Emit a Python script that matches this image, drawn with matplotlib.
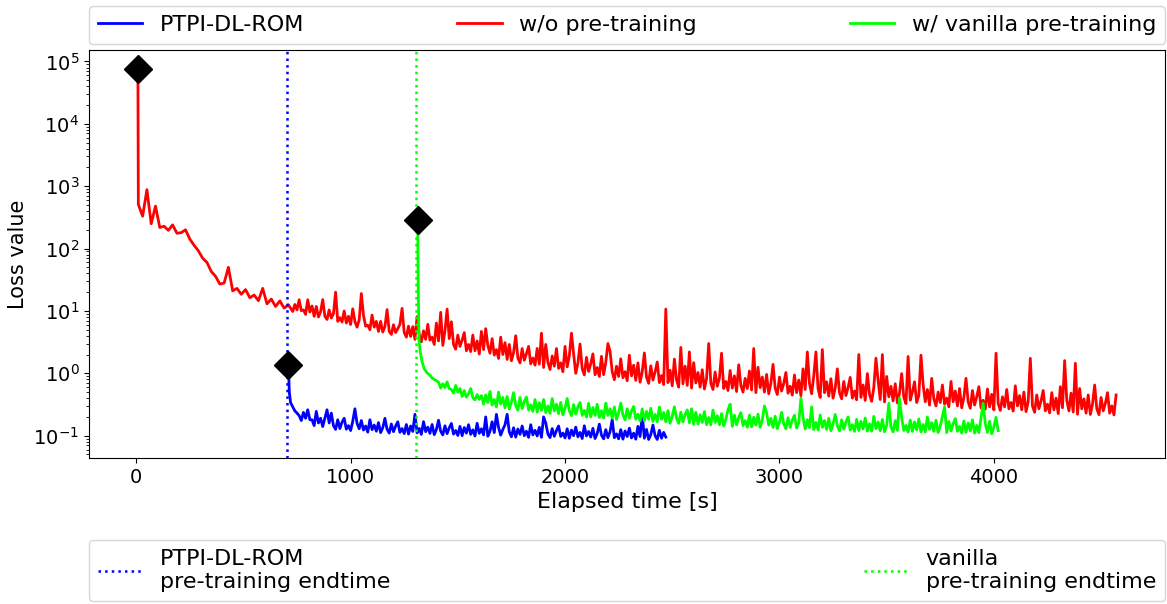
import matplotlib
matplotlib.use("Agg")
import matplotlib.pyplot as plt
import numpy as np

plt.rcParams['font.size'] = 14

#Loss history (time in s)
red_time = np.concatenate([[8], np.arange(10, 711, 20), np.arange(730, 4571, 10)])
red_loss = [77000,
    510, 330, 880, 250, 480, 218, 228, 196, 240, 176,
    180, 200, 142, 113, 92, 70, 60, 43, 36, 27,
    28, 50, 21, 23, 18.5, 22, 16.3, 18, 14.6, 23,
    13, 15.5, 11.8, 14.5, 11.1, 12.5,
    9.8, 12.7, 10.4, 15.1, 10.1, 10.4, 8.8, 15.1, 9.6, 12.0,
    8.2, 11.8, 8.0, 9.7, 15.2, 8.2, 7.3, 10.4, 7.7, 9.1,
    20, 6.8, 7.8, 6.65, 10.0, 6.4, 8.2, 6.05, 10.8, 6.8,
    5.5, 7.2, 19, 8.5, 5.7, 5.9, 5.0, 8.6, 5.5, 6.8,
    4.7, 6.8, 4.6, 5.6, 10.5, 4.7, 4.2, 6.0, 4.5, 5.2,
    6.1, 11, 4.5, 3.8, 5.7, 3.9, 5.6, 3.5, 8.1, 4.2,
    3.2, 4.8, 3.5, 6.1, 3.4, 3.8, 2.9, 6.4, 3.3, 9.5,
    2.8, 4.8, 10.7, 3.6, 6.7, 2.9, 2.44, 4.1, 2.7, 3.4,
    4.5, 2.3, 2.9, 2.23, 4.1, 2.3, 3.3, 2.04, 4.7, 2.4,
    5.2, 2.8, 2.1, 3.6, 1.96, 2.4, 1.73, 3.8, 2.0, 3.1,
    1.67, 2.9, 1.59, 2.15, 4.0, 1.76, 1.47, 2.5, 1.62, 2.06,
    2.7, 1.42, 1.76, 1.35, 2.5, 1.4, 4.4, 1.24, 2.9, 1.5,
    1.15, 1.9, 1.3, 2.5, 1.2,
    1.47, 1.06, 2.7, 1.27, 1.9, 4.4, 2.04, 1.0, 1.46, 2.95,
    1.19, 0.944, 1.8, 1.07, 1.43, 2.05, 0.95, 1.24, 0.89, 1.87,
    0.95, 1.5, 3.0, 2.26, 1.06, 0.79, 1.3, 0.89, 1.71, 0.85,
    1.06, 0.76, 1.95, 0.91, 1.35, 0.77, 1.47, 0.72, 1.05, 2.12,
    0.87, 0.69, 1.32, 0.78, 1.05, 1.52, 0.71, 0.92, 0.66, 10.7,
    0.71, 1.12, 0.63, 1.69, 0.79, 0.60, 2.6, 0.68, 1.3, 0.64,
    2.2, 0.58, 1.48, 0.70, 1.03, 0.6, 1.14, 0.56, 0.82, 3.0,
    0.69, 0.55, 1.05, 0.62, 0.84, 2.1, 0.57, 0.74, 0.53, 1.11,
    0.58, 0.91, 0.51, 1.37, 0.64, 0.5, 0.83, 0.57, 1.09, 0.54,
    2.5, 0.49, 1.25, 0.59, 0.87, 0.5, 0.96, 0.47, 0.69, 1.39,
    0.58, 0.457, 0.87, 0.52, 0.69, 1.03, 0.48, 0.62, 0.447, 0.94,
    0.49, 0.78, 0.437, 1.18, 0.55, 2.2, 0.69, 0.47, 0.91, 2.2,
    0.57, 0.41, 2.4, 0.49, 0.73, 0.43, 0.82, 0.40, 0.58, 1.18,
    0.49, 0.39, 0.74, 0.44, 0.59, 0.86, 0.4, 0.52, 0.376, 2.0,
    0.41, 0.65, 0.367, 0.99, 0.46, 0.355, 0.59, 1.75, 0.77, 0.38,
    2.0, 0.347, 0.89, 0.42, 0.62, 0.36, 0.68, 0.335, 0.49, 0.99,
    0.41, 0.327, 1.86, 0.37, 0.5, 0.73, 0.34, 0.44, 1.95, 0.66,
    0.35, 0.55, 0.309, 0.83, 0.39, 0.3, 0.5, 0.34, 0.65, 0.32,
    0.4, 0.29, 0.74, 0.35, 0.52, 0.3, 0.57, 0.28, 0.41, 0.83,
    0.35, 0.275, 0.53, 0.31, 0.42, 0.61, 0.28, 0.37, 0.266, 0.56,
    0.29, 0.46, 0.26, 2.1, 0.33, 0.254, 0.42, 0.29, 0.55, 0.27,
    0.34, 0.248, 0.63, 0.3, 0.44, 0.26, 0.5, 0.243, 0.35, 1.74,
    0.3, 0.237, 0.45, 0.27, 0.36, 0.53, 0.25, 0.32, 0.232, 0.49,
    0.26, 0.4, 0.226, 0.61, 0.28, 1.6, 0.37, 0.25, 0.48, 0.24,
    1.45, 0.221, 0.57, 0.27, 0.39, 0.23, 0.45, 0.219, 0.32, 0.65,
    0.27, 0.217, 0.41, 0.25, 0.33, 0.49, 0.23, 0.3, 0.215, 0.45]

blue_time = np.concatenate([[710, 714], np.arange(720, 2471, 10)])
blue_loss = [1.35, 0.5,
    0.34, 0.29, 0.25, 0.23, 0.21, 0.175, 0.236, 0.19, 0.26, 0.18,
    0.18, 0.145, 0.245, 0.16, 0.19, 0.14, 0.19, 0.26, 0.16, 0.23,
    0.145, 0.126, 0.18, 0.13, 0.165, 0.19, 0.127, 0.145, 0.121, 0.17,
    0.27, 0.158, 0.129, 0.175, 0.123, 0.143, 0.114, 0.18, 0.125, 0.148,
    0.118, 0.162, 0.112, 0.134, 0.19, 0.127, 0.11, 0.154, 0.116, 0.143,
    0.167, 0.113, 0.13, 0.108, 0.151, 0.106, 0.143, 0.117, 0.22, 0.111,
    0.131, 0.105, 0.168, 0.116, 0.137, 0.109, 0.151, 0.104, 0.125, 0.177,
    0.118, 0.103, 0.144, 0.108, 0.134, 0.157, 0.106, 0.121, 0.101, 0.141,
    0.1, 0.135, 0.11, 0.15, 0.105, 0.124, 0.099, 0.158, 0.109, 0.129,
    0.103, 0.2, 0.098, 0.118, 0.167, 0.112, 0.22, 0.136, 0.102, 0.126,
    0.149, 0.22, 0.115, 0.096, 0.134, 0.095, 0.128, 0.105, 0.143, 0.1,
    0.118, 0.094, 0.15, 0.103, 0.122, 0.099, 0.136, 0.094, 0.2, 0.16,
    0.107, 0.093, 0.13, 0.098, 0.121, 0.143, 0.097, 0.11, 0.092, 0.129,
    0.091, 0.123, 0.1, 0.137, 0.096, 0.113, 0.09, 0.144, 0.099, 0.117,
    0.095, 0.131, 0.09, 0.108, 0.153, 0.102, 0.089, 0.125, 0.093, 0.116,
    0.18, 0.093, 0.107, 0.089, 0.125, 0.088, 0.119, 0.097, 0.132, 0.092,
    0.11, 0.088, 0.141, 0.097, 0.22, 0.091, 0.126, 0.087, 0.104, 0.148,
    0.1, 0.087, 0.122, 0.091, 0.113, 0.095]

green_time = np.concatenate([[1313, 1315, 1319, 1325, 1333, 1343, 1356],
                             np.arange(1370, 4021, 10)])
green_loss = [283, 28, 3.3, 2.2, 1.55, 1.2, 1.02,
    0.93, 0.84, 0.80, 0.76, 0.72, 0.58, 0.68, 0.59, 0.73, 0.57,
    0.55, 0.48, 0.64, 0.5, 0.57, 0.425, 0.53, 0.415, 0.47, 0.57,
    0.407, 0.375, 0.456, 0.383, 0.44, 0.32, 0.45, 0.34, 0.51, 0.31,
    0.38, 0.29, 0.5, 0.32, 0.41, 0.28, 0.425, 0.268, 0.343, 0.49,
    0.309, 0.256, 0.41, 0.272, 0.355, 0.416, 0.258, 0.312, 0.244, 0.38,
    0.24, 0.338, 0.254, 0.38, 0.234, 0.3, 0.228, 0.394, 0.25, 0.321,
    0.226, 0.342, 0.216, 0.276, 0.395, 0.252, 0.209, 0.315, 0.222, 0.29,
    0.34, 0.211, 0.255, 0.199, 0.33, 0.2, 0.283, 0.212, 0.319, 0.196,
    0.252, 0.192, 0.332, 0.211, 0.27, 0.191, 0.289, 0.182, 0.233, 0.333,
    0.216, 0.179, 0.27, 0.19, 0.248, 0.294, 0.183, 0.221, 0.172, 0.269,
    0.173, 0.245, 0.184, 0.275, 0.169, 0.219, 0.167, 0.289, 0.183, 0.235,
    0.167, 0.252, 0.159, 0.204, 0.291, 0.19, 0.158, 0.238, 0.167, 0.219,
    0.259, 0.161, 0.27, 0.152, 0.237, 0.154, 0.217, 0.163, 0.244, 0.15,
    0.195, 0.149, 0.257, 0.163, 0.209, 0.15, 0.226, 0.143, 0.183, 0.261,
    0.32, 0.141, 0.213, 0.15, 0.196, 0.234, 0.145, 0.175, 0.137, 0.214,
    0.139, 0.197, 0.148, 0.221, 0.136, 0.177, 0.30, 0.233, 0.148, 0.19,
    0.136, 0.205, 0.13, 0.166, 0.237, 0.155, 0.129, 0.194, 0.136, 0.178,
    0.213, 0.132, 0.16, 0.40, 0.195, 0.128, 0.18, 0.135, 0.29, 0.125,
    0.163, 0.124, 0.215, 0.136, 0.175, 0.126, 0.19, 0.12, 0.153, 0.219,
    0.144, 0.12, 0.18, 0.127, 0.166, 0.2, 0.124, 0.15, 0.117, 0.183,
    0.121, 0.17, 0.128, 0.192, 0.118, 0.155, 0.118, 0.204, 0.13, 0.166,
    0.12, 0.182, 0.115, 0.147, 0.33, 0.139, 0.115, 0.174, 0.122, 0.40,
    0.195, 0.121, 0.146, 0.114, 0.178, 0.117, 0.166, 0.124, 0.186, 0.115,
    0.151, 0.115, 0.199, 0.126, 0.162, 0.117, 0.177, 0.112, 0.143, 0.204,
    0.29, 0.112, 0.169, 0.119, 0.155, 0.188, 0.117, 0.141, 0.11, 0.172,
    0.113, 0.16, 0.12, 0.18, 0.11, 0.146, 0.112, 0.193, 0.33, 0.157,
    0.113, 0.17, 0.107, 0.138, 0.197, 0.12]

#End of the pre-training phases
ptpi_end = 701
vanilla_end = 1305

fig, ax = plt.subplots(figsize=(11.67, 6.04), dpi=100)
fig.subplots_adjust(left=89/1167, right=1165/1167, top=1-50/604, bottom=1-458/604)

l_blue, = ax.plot(blue_time, blue_loss, '-', color='blue', linewidth=2, label='PTPI-DL-ROM')
l_red, = ax.plot(red_time, red_loss, '-', color='red', linewidth=2, label='w/o pre-training')
l_green, = ax.plot(green_time, green_loss, '-', color='#00ff00', linewidth=2, label='w/ vanilla pre-training')

v_blue = ax.axvline(ptpi_end, color='blue', linestyle=':', linewidth=1.8,
                    label='PTPI-DL-ROM\npre-training endtime')
v_green = ax.axvline(vanilla_end, color='#00ff00', linestyle=':', linewidth=1.8,
                     label='vanilla\npre-training endtime')

#Starting point of each training
for t, l in [(red_time, red_loss), (blue_time, blue_loss), (green_time, green_loss)]:
    ax.plot(t[0], l[0], 'D', color='black', markersize=14, zorder=5)

ax.set_yscale('log')
ax.set_xlabel('Elapsed time [s]', fontsize=16)
ax.set_ylabel('Loss value', fontsize=15)

fig.legend(handles=[l_blue, l_red, l_green], loc='lower left',
           bbox_to_anchor=(89/1167, 1-44/604, 1076/1167, 0.04),
           ncol=3, mode='expand', borderaxespad=0, fontsize=16)
fig.legend(handles=[v_blue, v_green], loc='upper left',
           bbox_to_anchor=(89/1167, 1-540/604, 1076/1167, 0),
           ncol=2, mode='expand', borderaxespad=0, fontsize=16)

fig.savefig('out.png', dpi=100)
